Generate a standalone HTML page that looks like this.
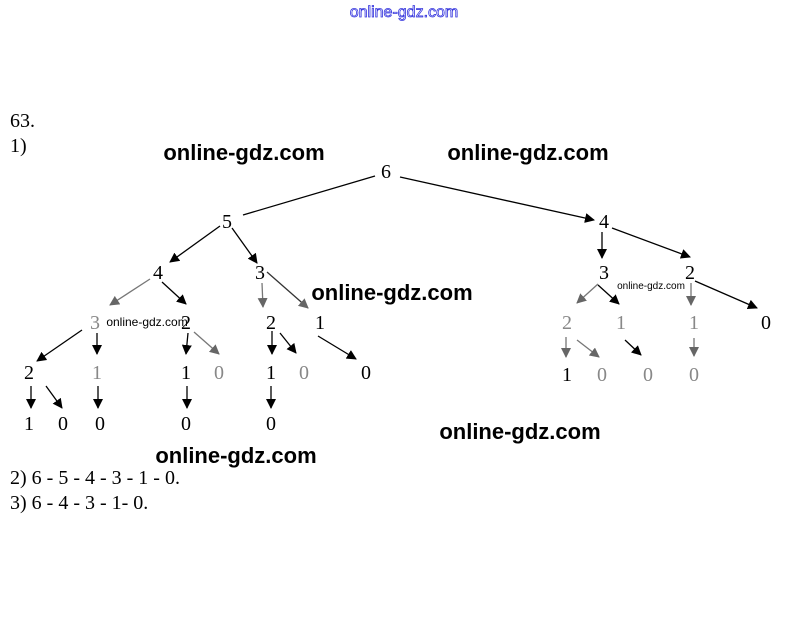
<!DOCTYPE html>
<html><head><style>
body{margin:0;background:#fff;width:808px;height:615px;overflow:hidden}
svg text{font-family:"Liberation Serif",serif;font-size:20px}
.w{font-family:"Liberation Sans",sans-serif;font-size:22px;font-weight:bold;fill:#000}
</style></head><body>
<svg width="808" height="615" viewBox="0 0 808 615">
<defs>
<marker id="a" markerWidth="10" markerHeight="10" refX="9" refY="5" orient="auto" markerUnits="userSpaceOnUse"><path d="M0,0 L10,5 L0,10 z" fill="#000"/></marker>
<marker id="g" markerWidth="10" markerHeight="10" refX="9" refY="5" orient="auto" markerUnits="userSpaceOnUse"><path d="M0,0 L10,5 L0,10 z" fill="#666"/></marker>
</defs>
<text x="404" y="17" text-anchor="middle" style="font-family:'Liberation Sans',sans-serif;font-size:16px" fill="#fff" stroke="#3333dd" stroke-width="0.8">online-gdz.com</text>
<text x="10" y="127">63.</text>
<text x="10" y="152">1)</text>
<g stroke="#000" stroke-width="1.3" fill="none">
<line x1="375" y1="176" x2="243" y2="215"/>
<line x1="400" y1="177" x2="594" y2="220" marker-end="url(#a)"/>
<line x1="220" y1="226" x2="170" y2="262" marker-end="url(#a)"/>
<line x1="232" y1="228" x2="257" y2="263" marker-end="url(#a)"/>
<line x1="602" y1="232" x2="602" y2="258" marker-end="url(#a)"/>
<line x1="612" y1="228" x2="690" y2="257" marker-end="url(#a)"/>
<line x1="162" y1="282" x2="186" y2="304" marker-end="url(#a)"/>
<line x1="267" y1="272" x2="308" y2="308" marker-end="url(#g)" stroke="#333"/>
<line x1="598" y1="285" x2="619" y2="304" marker-end="url(#a)"/>
<line x1="695" y1="281" x2="757" y2="308" marker-end="url(#a)"/>
<line x1="82" y1="330" x2="37" y2="361" marker-end="url(#a)"/>
<line x1="97" y1="333" x2="97" y2="354" marker-end="url(#a)"/>
<line x1="188" y1="333" x2="186" y2="354" marker-end="url(#a)"/>
<line x1="280" y1="333" x2="296" y2="353" marker-end="url(#a)"/>
<line x1="318" y1="336" x2="356" y2="359" marker-end="url(#a)"/>
<line x1="31" y1="386" x2="31" y2="408" marker-end="url(#a)"/>
<line x1="46" y1="386" x2="62" y2="408" marker-end="url(#a)"/>
<line x1="98" y1="386" x2="98" y2="408" marker-end="url(#a)"/>
<line x1="187" y1="386" x2="187" y2="408" marker-end="url(#a)"/>
<line x1="271" y1="386" x2="271" y2="408" marker-end="url(#a)"/>
<line x1="272" y1="331" x2="272" y2="354" marker-end="url(#a)"/>
<line x1="625" y1="340" x2="641" y2="355" marker-end="url(#a)"/>
</g>
<g stroke="#777" stroke-width="1.3" fill="none">
<line x1="150" y1="279" x2="110" y2="305" marker-end="url(#g)"/>
<line x1="262" y1="283" x2="263" y2="307" marker-end="url(#g)"/>
<line x1="194" y1="332" x2="219" y2="354" marker-end="url(#g)"/>
<line x1="598" y1="284" x2="577" y2="303" marker-end="url(#g)"/>
<line x1="691" y1="283" x2="691" y2="305" marker-end="url(#g)"/>
<line x1="566" y1="337" x2="566" y2="357" marker-end="url(#g)"/>
<line x1="577" y1="340" x2="599" y2="357" marker-end="url(#g)"/>
<line x1="694" y1="338" x2="694" y2="356" marker-end="url(#g)"/>
</g>
<g text-anchor="middle">
<text x="386" y="178">6</text>
<text x="227" y="228">5</text>
<text x="604" y="228">4</text>
<text x="158" y="279">4</text>
<text x="260" y="279">3</text>
<text x="604" y="279">3</text>
<text x="690" y="279">2</text>
<text x="95" y="329" fill="#888">3</text>
<text x="186" y="329">2</text>
<text x="271" y="329">2</text>
<text x="320" y="329">1</text>
<text x="567" y="329" fill="#888">2</text>
<text x="621" y="329" fill="#888">1</text>
<text x="694" y="329" fill="#888">1</text>
<text x="766" y="329">0</text>
<text x="29" y="379">2</text>
<text x="97" y="379" fill="#888">1</text>
<text x="186" y="379">1</text>
<text x="219" y="379" fill="#888">0</text>
<text x="271" y="379">1</text>
<text x="304" y="379" fill="#888">0</text>
<text x="366" y="379">0</text>
<text x="567" y="381">1</text>
<text x="602" y="381" fill="#888">0</text>
<text x="648" y="381" fill="#888">0</text>
<text x="694" y="381" fill="#888">0</text>
<text x="29" y="430">1</text>
<text x="63" y="430">0</text>
<text x="100" y="430">0</text>
<text x="186" y="430">0</text>
<text x="271" y="430">0</text>
</g>
<text class="w" x="244" y="160" text-anchor="middle">online-gdz.com</text>
<text class="w" x="528" y="160" text-anchor="middle">online-gdz.com</text>
<text class="w" x="392" y="300" text-anchor="middle">online-gdz.com</text>
<text class="w" x="236" y="463" text-anchor="middle">online-gdz.com</text>
<text class="w" x="520" y="439" text-anchor="middle">online-gdz.com</text>
<text x="147" y="326" text-anchor="middle" style="font-family:'Liberation Sans',sans-serif;font-size:12px">online-gdz.com</text>
<text x="651" y="289" text-anchor="middle" style="font-family:'Liberation Sans',sans-serif;font-size:10px">online-gdz.com</text>
<text x="10" y="484">2) 6 - 5 - 4 - 3 - 1 - 0.</text>
<text x="10" y="509">3) 6 - 4 - 3 - 1- 0.</text>
</svg>
</body></html>
